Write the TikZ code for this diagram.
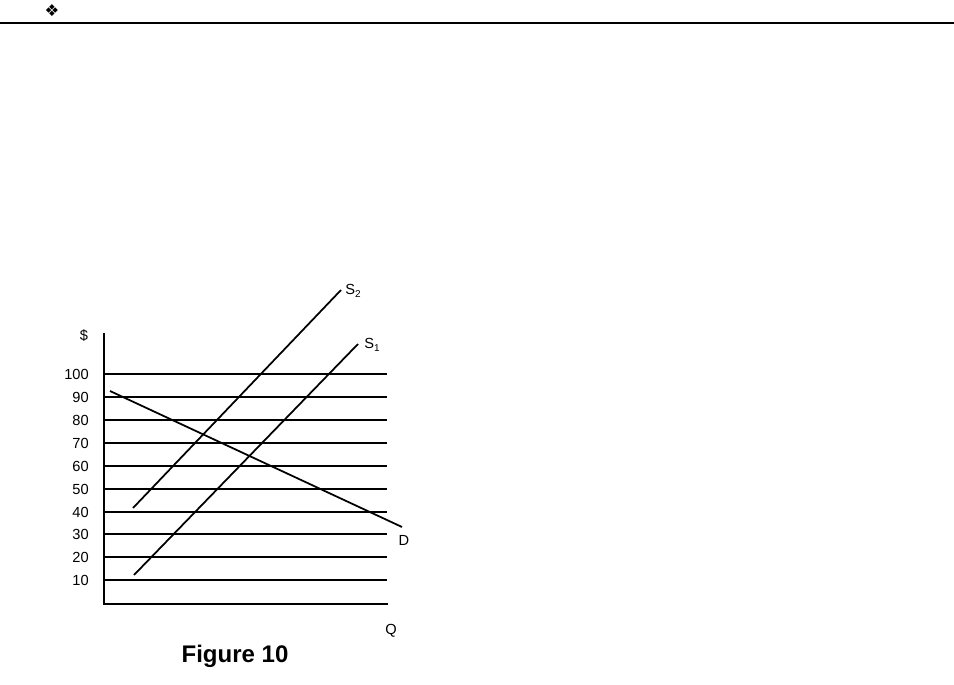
\documentclass[tikz,border=0pt]{standalone}
\usepackage{fontspec}
\setmainfont{Liberation Sans}
\newfontfamily\symfont{DejaVu Sans}
\newcommand{\lowidx}[1]{\raisebox{-0.45ex}{\fontsize{8.5}{9}\selectfont #1}}

\begin{document}
\begin{tikzpicture}[x=0.03cm, y=-0.03cm,
		tick/.style={anchor=east, inner sep=0pt, font=\fontsize{12.5}{14}\selectfont},
		lbl/.style={inner sep=0pt, font=\fontsize{12.5}{14}\selectfont},
		grid line/.style={line width=1.7pt},
		curve/.style={line width=1.5pt}]
		\useasboundingbox (0, 0) rectangle (954, 685);
		
		% header
		\node[inner sep=0pt, font=\symfont\fontsize{14}{16}\selectfont] (mark) at (52, 11) {❖};
		\draw[line width=1.1pt] (0, 23) -- (954, 23);
		
		% axes
		\coordinate (top) at (104, 333);
		\coordinate (origin) at (104, 604);
		\coordinate (qend) at (388, 604);
		\draw[line width=1.7pt] (top) -- (origin) -- (qend);
		
		% price lines
		\draw[grid line] (104, 374) -- (387, 374);
		\draw[grid line] (104, 397) -- (387, 397);
		\draw[grid line] (104, 420) -- (387, 420);
		\draw[grid line] (104, 443) -- (387, 443);
		\draw[grid line] (104, 466) -- (387, 466);
		\draw[grid line] (104, 489) -- (387, 489);
		\draw[grid line] (104, 512) -- (387, 512);
		\draw[grid line] (104, 534) -- (387, 534);
		\draw[grid line] (104, 557) -- (387, 557);
		\draw[grid line] (104, 580) -- (387, 580);
		
		\node[tick] (p100) at (89, 374) {100};
		\node[tick] (p90) at (89, 397) {90};
		\node[tick] (p80) at (89, 420) {80};
		\node[tick] (p70) at (89, 443) {70};
		\node[tick] (p60) at (89, 466) {60};
		\node[tick] (p50) at (89, 489) {50};
		\node[tick] (p40) at (89, 512) {40};
		\node[tick] (p30) at (89, 534) {30};
		\node[tick] (p20) at (89, 557) {20};
		\node[tick] (p10) at (89, 580) {10};
		
		\node[lbl] (dollar) at (84, 336) {\$};
		\node[lbl] (qlbl) at (391, 631) {Q};
		
		% demand and supply
		\coordinate (Da) at (110, 391);
		\coordinate (Db) at (402, 527);
		\draw[curve] (Da) -- (Db);
		\node[lbl] (Dlbl) at (404, 540) {D};
		
		\coordinate (S2a) at (133, 508);
		\coordinate (S2b) at (341, 290);
		\draw[curve] (S2a) -- (S2b);
		\node[lbl] (S2lbl) at (353, 291) {S\lowidx{2}};
		
		\coordinate (S1a) at (134, 575);
		\coordinate (S1b) at (358, 344);
		\draw[curve] (S1a) -- (S1b);
		\node[lbl] (S1lbl) at (372, 345) {S\lowidx{1}};
		
		\node[inner sep=0pt, font=\bfseries\fontsize{20.5}{24}\selectfont] (caption) at (235, 656) {Figure 10};
	\end{tikzpicture}
\end{document}
